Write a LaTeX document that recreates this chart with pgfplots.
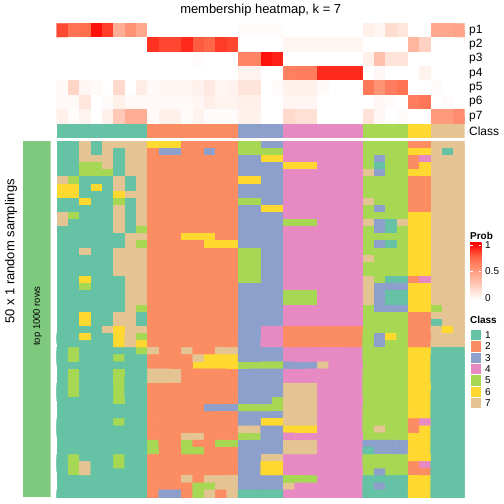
\documentclass[border=0pt]{standalone}
\usepackage{fontspec}
\setmainfont{Liberation Sans}
\usepackage{pgfplots}
\usepackage{pgfplotstable}
\pgfplotsset{compat=1.18}
\definecolor{c1}{RGB}{102,194,165}
\definecolor{c2}{RGB}{252,141,98}
\definecolor{c3}{RGB}{141,160,203}
\definecolor{c4}{RGB}{231,138,195}
\definecolor{c5}{RGB}{166,216,84}
\definecolor{c6}{RGB}{255,217,47}
\definecolor{c7}{RGB}{229,196,148}
\definecolor{topg}{RGB}{127,201,127}
\definecolor{p25}{RGB}{255,207,190}
\definecolor{p50}{RGB}{255,158,129}
\definecolor{p75}{RGB}{255,103,70}
\pgfdeclareverticalshading{probshade}{100bp}{color(0bp)=(white); color(25bp)=(white); color(37.5bp)=(p25); color(50bp)=(p50); color(62.5bp)=(p75); color(75bp)=(red); color(100bp)=(red)}

% membership probabilities p1..p7 (one line per row, 36 columns)
\pgfplotstableread[row sep=\\, header=false]{
0.82\\0.70\\0.72\\0.96\\0.85\\0.42\\0.55\\0.45\\0\\0\\0\\0\\0\\0\\0\\0\\0.02\\0.02\\0.02\\0.02\\0\\0\\0\\0\\0\\0\\0\\0.08\\0.05\\0.18\\0.13\\0\\0\\0.45\\0.45\\0.47\\
0\\0\\0\\0\\0\\0\\0\\0\\0.88\\0.83\\0.83\\0.90\\0.78\\0.75\\0.86\\0.83\\0\\0\\0\\0\\0.05\\0.05\\0.05\\0.05\\0.05\\0.05\\0.05\\0\\0\\0\\0\\0.38\\0.24\\0\\0\\0\\
0\\0\\0\\0\\0\\0\\0\\0\\0\\0\\0\\0\\0.02\\0\\0\\0\\0.62\\0.62\\0.96\\0.92\\0\\0\\0\\0\\0\\0\\0\\0.08\\0.32\\0.15\\0.15\\0\\0\\0\\0\\0\\
0\\0\\0\\0\\0\\0\\0\\0\\0\\0\\0\\0\\0\\0\\0\\0\\0.06\\0.06\\0\\0\\0.63\\0.65\\0.65\\0.90\\0.90\\0.90\\0.90\\0\\0.04\\0\\0\\0\\0.07\\0\\0\\0\\
0.03\\0.22\\0.05\\0.03\\0\\0.20\\0\\0.10\\0.03\\0.05\\0.05\\0.05\\0.07\\0.12\\0.05\\0.07\\0.14\\0.14\\0\\0.02\\0.07\\0.07\\0.07\\0.03\\0\\0\\0\\0.67\\0.55\\0.65\\0.70\\0\\0\\0.02\\0\\0\\
0.03\\0.03\\0.13\\0\\0.02\\0.08\\0.03\\0.03\\0.03\\0.03\\0.03\\0.03\\0.05\\0.09\\0.06\\0.06\\0.08\\0.08\\0\\0\\0.05\\0.05\\0.05\\0\\0\\0\\0\\0\\0.04\\0.02\\0\\0.65\\0.68\\0\\0.02\\0\\
0.08\\0.02\\0.06\\0\\0.07\\0.28\\0.42\\0.42\\0.03\\0.08\\0.08\\0.02\\0.06\\0.02\\0.02\\0.02\\0.07\\0.07\\0\\0\\0.20\\0.16\\0.16\\0\\0\\0\\0\\0.15\\0.04\\0\\0.02\\0\\0\\0.52\\0.52\\0.58\\
}\probdata

% class of each column in the 50 random samplings (one line per sampling)
\pgfplotstableread[row sep=\\, header=false]{
1\\1\\7\\1\\7\\7\\7\\7\\6\\6\\6\\2\\2\\2\\2\\2\\5\\5\\3\\3\\4\\4\\4\\4\\4\\4\\4\\5\\5\\5\\5\\2\\2\\7\\7\\7\\
1\\1\\7\\1\\7\\1\\7\\7\\2\\3\\3\\2\\2\\3\\2\\2\\5\\5\\5\\5\\4\\4\\4\\4\\4\\4\\4\\5\\5\\5\\5\\6\\6\\7\\1\\7\\
1\\1\\7\\7\\7\\1\\7\\7\\2\\2\\2\\2\\2\\2\\2\\2\\3\\3\\6\\6\\4\\4\\4\\4\\4\\4\\4\\5\\3\\5\\5\\2\\4\\7\\7\\7\\
1\\1\\5\\5\\7\\1\\7\\7\\2\\2\\2\\2\\2\\2\\2\\2\\3\\3\\3\\3\\6\\6\\6\\4\\4\\4\\4\\5\\1\\5\\5\\2\\6\\7\\7\\7\\
1\\1\\5\\5\\5\\1\\7\\7\\2\\2\\2\\2\\2\\2\\2\\2\\3\\3\\3\\3\\4\\4\\4\\4\\4\\4\\4\\7\\3\\5\\5\\6\\6\\7\\7\\7\\
7\\5\\1\\1\\1\\7\\1\\7\\2\\2\\2\\2\\2\\2\\2\\2\\6\\6\\3\\3\\4\\4\\4\\4\\4\\4\\4\\5\\5\\5\\5\\2\\2\\7\\7\\7\\
6\\6\\1\\6\\1\\7\\1\\7\\2\\2\\2\\2\\2\\2\\2\\2\\3\\3\\3\\3\\4\\4\\4\\4\\4\\4\\4\\5\\5\\5\\5\\2\\2\\7\\7\\7\\
6\\6\\1\\1\\1\\6\\7\\7\\2\\2\\2\\2\\2\\2\\2\\2\\3\\3\\3\\3\\4\\4\\4\\4\\4\\4\\4\\5\\5\\5\\5\\2\\2\\7\\7\\7\\
1\\1\\6\\1\\1\\5\\1\\7\\2\\2\\2\\2\\2\\2\\2\\2\\5\\5\\3\\3\\4\\4\\4\\4\\4\\4\\4\\7\\5\\5\\5\\2\\2\\7\\7\\7\\
1\\1\\1\\1\\1\\7\\1\\7\\2\\2\\2\\2\\2\\2\\2\\2\\3\\3\\6\\6\\4\\4\\4\\4\\4\\4\\4\\5\\3\\5\\5\\2\\2\\7\\7\\7\\
7\\5\\1\\1\\1\\7\\1\\7\\2\\2\\2\\2\\2\\2\\2\\2\\3\\3\\3\\3\\4\\4\\4\\4\\4\\4\\4\\5\\5\\5\\5\\6\\6\\7\\7\\7\\
7\\1\\1\\1\\1\\7\\1\\7\\2\\2\\2\\2\\2\\2\\2\\2\\3\\3\\3\\3\\5\\5\\5\\4\\4\\4\\4\\7\\3\\1\\7\\6\\6\\7\\7\\7\\
1\\1\\1\\1\\1\\7\\1\\5\\2\\2\\2\\2\\2\\2\\2\\2\\3\\3\\3\\3\\4\\4\\4\\4\\4\\4\\4\\5\\3\\1\\5\\6\\6\\7\\7\\7\\
1\\1\\1\\1\\1\\1\\7\\7\\2\\2\\2\\6\\6\\6\\2\\2\\3\\3\\3\\3\\4\\4\\4\\4\\4\\4\\4\\5\\5\\5\\5\\6\\6\\7\\7\\7\\
1\\1\\1\\1\\1\\1\\7\\5\\2\\2\\2\\2\\2\\6\\6\\6\\3\\3\\3\\3\\4\\4\\4\\4\\4\\4\\4\\5\\3\\1\\5\\6\\6\\7\\7\\7\\
1\\1\\7\\1\\1\\7\\7\\7\\2\\2\\2\\2\\2\\2\\2\\2\\5\\5\\3\\3\\4\\4\\4\\4\\4\\4\\4\\5\\5\\5\\5\\6\\6\\7\\7\\7\\
1\\1\\1\\1\\1\\7\\7\\7\\2\\2\\2\\2\\2\\2\\2\\2\\5\\5\\3\\3\\4\\4\\4\\4\\4\\4\\4\\7\\5\\5\\5\\6\\6\\7\\7\\7\\
1\\1\\1\\1\\1\\7\\7\\7\\2\\2\\2\\2\\2\\2\\2\\2\\5\\5\\3\\3\\4\\4\\4\\4\\4\\4\\4\\5\\5\\5\\5\\6\\6\\7\\7\\7\\
1\\1\\1\\1\\1\\7\\7\\7\\2\\2\\2\\2\\2\\2\\2\\2\\5\\5\\3\\3\\4\\4\\4\\4\\4\\4\\4\\5\\5\\5\\5\\6\\6\\7\\7\\7\\
1\\1\\6\\1\\1\\1\\7\\7\\2\\2\\2\\2\\2\\2\\2\\2\\5\\5\\3\\3\\4\\4\\4\\4\\4\\4\\4\\7\\5\\1\\1\\2\\4\\7\\7\\7\\
1\\1\\5\\1\\1\\1\\7\\7\\2\\2\\2\\2\\2\\2\\2\\2\\3\\3\\3\\3\\4\\4\\4\\4\\4\\4\\4\\7\\3\\3\\3\\6\\6\\7\\7\\7\\
1\\1\\1\\1\\1\\1\\7\\7\\2\\2\\2\\2\\2\\2\\2\\2\\3\\3\\3\\3\\5\\5\\5\\4\\4\\4\\4\\7\\3\\1\\1\\6\\6\\7\\7\\7\\
1\\1\\1\\1\\1\\1\\7\\7\\2\\2\\2\\2\\2\\2\\2\\2\\3\\3\\3\\3\\5\\5\\5\\4\\4\\4\\4\\7\\3\\1\\1\\6\\6\\7\\7\\7\\
1\\1\\1\\1\\1\\1\\7\\5\\2\\2\\2\\2\\2\\2\\2\\2\\3\\3\\3\\3\\4\\4\\4\\4\\4\\4\\4\\5\\3\\3\\3\\6\\6\\5\\7\\7\\
1\\1\\6\\1\\1\\7\\7\\1\\2\\2\\2\\2\\2\\2\\2\\2\\3\\3\\3\\3\\4\\4\\4\\4\\4\\4\\4\\5\\5\\5\\5\\2\\2\\7\\7\\7\\
1\\1\\6\\1\\1\\7\\7\\1\\2\\2\\2\\2\\2\\2\\2\\2\\3\\3\\3\\3\\4\\4\\4\\4\\4\\4\\4\\5\\5\\5\\5\\2\\2\\1\\7\\7\\
1\\1\\1\\1\\7\\6\\7\\7\\2\\2\\2\\2\\2\\2\\2\\2\\3\\3\\4\\4\\2\\2\\2\\2\\2\\2\\2\\5\\5\\5\\5\\2\\2\\7\\6\\7\\
1\\1\\6\\1\\1\\6\\7\\5\\2\\2\\2\\2\\2\\2\\2\\2\\3\\3\\4\\4\\2\\2\\2\\2\\2\\2\\2\\5\\3\\6\\5\\2\\2\\7\\7\\7\\
1\\1\\1\\1\\1\\6\\7\\6\\2\\2\\2\\2\\2\\2\\2\\2\\3\\3\\4\\4\\2\\2\\2\\2\\2\\2\\2\\5\\3\\5\\5\\2\\2\\7\\7\\7\\
1\\5\\1\\1\\1\\1\\1\\5\\7\\2\\2\\7\\2\\2\\7\\7\\3\\3\\3\\3\\4\\4\\4\\4\\4\\4\\4\\5\\5\\5\\5\\6\\6\\1\\1\\1\\
1\\5\\1\\1\\1\\5\\1\\1\\2\\2\\2\\2\\7\\6\\6\\6\\3\\3\\3\\3\\4\\4\\4\\4\\4\\4\\4\\5\\5\\5\\5\\6\\6\\1\\1\\1\\
1\\1\\1\\1\\1\\1\\1\\1\\2\\2\\2\\2\\6\\6\\6\\6\\5\\5\\5\\5\\3\\3\\3\\7\\4\\4\\4\\5\\5\\5\\5\\6\\6\\1\\1\\1\\
1\\5\\1\\1\\1\\5\\1\\1\\7\\7\\7\\2\\2\\2\\2\\2\\3\\3\\3\\3\\4\\4\\4\\4\\4\\4\\4\\5\\5\\5\\5\\6\\6\\1\\1\\1\\
1\\5\\1\\1\\1\\5\\1\\1\\7\\7\\7\\2\\2\\2\\2\\2\\3\\3\\3\\3\\4\\4\\4\\4\\4\\4\\4\\5\\5\\5\\5\\6\\6\\1\\1\\1\\
1\\5\\1\\1\\1\\5\\1\\1\\2\\2\\2\\2\\2\\2\\2\\2\\3\\3\\3\\3\\7\\7\\7\\4\\4\\4\\4\\5\\5\\5\\5\\6\\6\\1\\1\\1\\
1\\5\\1\\1\\1\\5\\1\\1\\2\\2\\2\\2\\2\\2\\2\\2\\3\\3\\3\\3\\7\\7\\7\\4\\4\\4\\4\\5\\5\\5\\5\\6\\6\\1\\1\\1\\
1\\1\\1\\1\\1\\5\\1\\1\\2\\2\\2\\2\\2\\2\\2\\2\\3\\3\\3\\5\\7\\7\\7\\4\\4\\4\\4\\5\\5\\5\\5\\6\\6\\1\\1\\1\\
1\\1\\1\\1\\1\\1\\1\\1\\2\\2\\2\\2\\2\\3\\3\\3\\5\\5\\5\\5\\7\\7\\7\\4\\4\\4\\4\\5\\5\\5\\5\\6\\6\\1\\1\\1\\
1\\1\\1\\1\\1\\1\\1\\1\\2\\2\\2\\2\\2\\2\\2\\2\\3\\3\\3\\3\\7\\7\\7\\4\\4\\4\\4\\5\\5\\5\\5\\6\\6\\1\\1\\1\\
1\\1\\1\\1\\1\\5\\1\\1\\2\\2\\2\\2\\2\\2\\2\\2\\3\\3\\6\\6\\7\\7\\7\\4\\4\\4\\4\\5\\5\\5\\5\\2\\4\\1\\1\\1\\
1\\1\\1\\1\\1\\1\\1\\1\\2\\2\\2\\2\\2\\2\\2\\2\\7\\7\\3\\3\\6\\6\\6\\4\\4\\4\\4\\5\\7\\5\\5\\2\\6\\1\\1\\1\\
1\\1\\1\\1\\1\\1\\1\\1\\2\\2\\2\\7\\7\\2\\2\\2\\5\\5\\3\\3\\4\\4\\4\\4\\4\\4\\4\\5\\5\\5\\5\\6\\6\\1\\1\\1\\
1\\1\\1\\1\\1\\1\\1\\1\\5\\2\\2\\5\\2\\2\\5\\5\\3\\3\\3\\3\\7\\7\\7\\4\\4\\4\\4\\3\\3\\3\\3\\6\\6\\1\\1\\1\\
1\\1\\1\\1\\1\\1\\1\\1\\5\\2\\2\\5\\5\\2\\2\\2\\3\\3\\3\\3\\7\\7\\7\\4\\4\\4\\4\\1\\3\\3\\3\\6\\6\\1\\1\\1\\
1\\5\\1\\1\\1\\5\\1\\1\\2\\2\\2\\2\\2\\2\\2\\2\\3\\3\\7\\7\\4\\4\\4\\4\\4\\4\\4\\5\\5\\5\\5\\6\\6\\1\\1\\1\\
1\\5\\7\\1\\1\\5\\1\\1\\2\\2\\2\\2\\2\\2\\2\\2\\3\\3\\6\\6\\4\\4\\4\\4\\4\\4\\4\\5\\5\\5\\5\\2\\4\\1\\1\\1\\
1\\5\\7\\1\\1\\1\\1\\1\\2\\2\\2\\2\\2\\2\\2\\2\\3\\3\\6\\6\\4\\4\\4\\4\\4\\4\\4\\5\\3\\5\\5\\2\\2\\1\\1\\1\\
1\\1\\1\\1\\1\\1\\1\\1\\2\\2\\2\\7\\2\\7\\7\\7\\3\\3\\3\\3\\5\\5\\5\\4\\4\\4\\4\\1\\1\\1\\1\\6\\6\\1\\1\\1\\
1\\1\\1\\1\\1\\1\\1\\1\\2\\2\\2\\2\\5\\5\\7\\7\\3\\3\\3\\3\\7\\4\\4\\4\\4\\4\\4\\1\\3\\1\\1\\6\\6\\1\\1\\1\\
1\\1\\1\\1\\1\\1\\1\\1\\2\\3\\3\\2\\5\\7\\2\\7\\1\\1\\1\\1\\4\\4\\4\\4\\4\\4\\4\\1\\1\\1\\1\\6\\6\\1\\1\\1\\
}\clsdata

\pgfplotsset{
  hm/.style={scale only axis, hide axis, width=408bp, xmin=-0.5, xmax=35.5,
    enlargelimits=false, y dir=reverse, anchor=south west},
  cellplot/.style={matrix plot*, mesh/cols=36, point meta=explicit},
  /pgfplots/table/grid36/.style={x index=0, y index=0, meta index=0,
        x expr={\coordindex-36*floor((\coordindex+0.5)/36)},
        y expr={floor((\coordindex+0.5)/36)}},
  % same cells, shifted half a row: fills the hair-line seams between rows
  /pgfplots/table/grid36shift/.style={x index=0, y index=0, meta index=0,
        x expr={\coordindex-36*floor((\coordindex+0.5)/36)},
        y expr={floor((\coordindex+0.5)/36)+0.5}},
}
\begin{document}
\begin{tikzpicture}
\useasboundingbox (0,0) rectangle (504bp,504bp);
\fill[white] (0,0) rectangle (504bp,504bp);

% ---------- class annotation row
\begin{axis}[hm, at={(56.7bp,366bp)}, height=14bp, ymin=0, ymax=1, y dir=normal]
\addplot[fill=c1, draw=none] coordinates {(-0.5,1) (7.5,1)} \closedcycle;
\addplot[fill=c2, draw=none] coordinates {(7.5,1) (15.5,1)} \closedcycle;
\addplot[fill=c3, draw=none] coordinates {(15.5,1) (19.5,1)} \closedcycle;
\addplot[fill=c4, draw=none] coordinates {(19.5,1) (26.5,1)} \closedcycle;
\addplot[fill=c5, draw=none] coordinates {(26.5,1) (30.5,1)} \closedcycle;
\addplot[fill=c6, draw=none] coordinates {(30.5,1) (32.5,1)} \closedcycle;
\addplot[fill=c7, draw=none] coordinates {(32.5,1) (35.5,1)} \closedcycle;
\end{axis}

% ---------- "top 1000 rows" bar
\begin{axis}[scale only axis, hide axis, at={(22.7bp,7bp)}, anchor=south west,
  width=28bp, height=356bp, xmin=0, xmax=1, ymin=0, ymax=1, enlargelimits=false]
\addplot[fill=topg, draw=none] coordinates {(0,1) (1,1)} \closedcycle;
\end{axis}

% ---------- membership probabilities (p1..p7)
\begin{axis}[hm, at={(56.7bp,380.7bp)}, height=100bp, ymin=-0.5, ymax=6.5, clip=true,
  colormap={prob}{rgb255=(255,255,255) rgb255=(255,207,190) rgb255=(255,158,129) rgb255=(255,103,70) rgb255=(255,0,0)},
  point meta min=0, point meta max=1]
\addplot[cellplot] table[grid36shift] {\probdata};
\addplot[cellplot] table[grid36] {\probdata};
\end{axis}

% ---------- 50 random samplings: class of each column
\begin{axis}[hm, at={(56.7bp,7bp)}, height=356bp, ymin=-0.5, ymax=49.5, clip=true,
  colormap={cls}{rgb255=(102,194,165) rgb255=(252,141,98) rgb255=(141,160,203) rgb255=(231,138,195) rgb255=(166,216,84) rgb255=(255,217,47) rgb255=(229,196,148)},
  point meta min=1, point meta max=7]
\addplot[cellplot] table[grid36shift] {\clsdata};
\addplot[cellplot] table[grid36] {\clsdata};
\end{axis}

\node[rotate=90, font=\fontsize{9.5}{11}\selectfont] at (37.5bp,188bp) {top 1000 rows};
\node[rotate=90, font=\fontsize{13}{15}\selectfont] at (11bp,252.5bp) {50 x 1 random samplings};

% ---------- title and row labels
\node[font=\fontsize{13}{15}\selectfont] at (260.7bp,494bp) {membership heatmap, k = 7};
\begin{scope}[every node/.style={anchor=west, inner sep=0pt, font=\fontsize{12}{14}\selectfont}]
\node at (469bp,473.6bp) {p1};
\node at (469bp,459.3bp) {p2};
\node at (469bp,445.0bp) {p3};
\node at (469bp,430.7bp) {p4};
\node at (469bp,416.4bp) {p5};
\node at (469bp,402.1bp) {p6};
\node at (469bp,387.8bp) {p7};
\node at (469bp,373bp) {Class};
\end{scope}

% ---------- legends
\begin{scope}[every node/.style={inner sep=0pt, font=\fontsize{10}{12}\selectfont}]
\node[anchor=west, font=\bfseries\fontsize{10}{12}\selectfont] at (470bp,268bp) {Prob};
\shade[shading=probshade] (470bp,204bp) rectangle (481.3bp,261bp);
\draw[white, line width=0.5bp] (470bp,259bp) -- (472.5bp,259bp) (478.8bp,259bp) -- (481.3bp,259bp);
\draw[white, line width=0.5bp] (470bp,232.5bp) -- (472.5bp,232.5bp) (478.8bp,232.5bp) -- (481.3bp,232.5bp);
\node[anchor=west] at (485bp,259bp) {1};
\node[anchor=west] at (485bp,232.5bp) {0.5};
\node[anchor=west] at (485bp,206bp) {0};
\node[anchor=west, font=\bfseries\fontsize{10}{12}\selectfont] at (470bp,184bp) {Class};
\foreach \i/\c in {1/c1,2/c2,3/c3,4/c4,5/c5,6/c6,7/c7}{
  \fill[\c, draw=white, line width=0.4bp] (470bp,{174.7bp-(\i-1)*11.34bp}) rectangle (481.3bp,{174.7bp-\i*11.34bp});
  \node[anchor=west] at (485bp,{174.7bp-(\i-0.5)*11.34bp}) {\i};
}
\end{scope}
\end{tikzpicture}
\end{document}
